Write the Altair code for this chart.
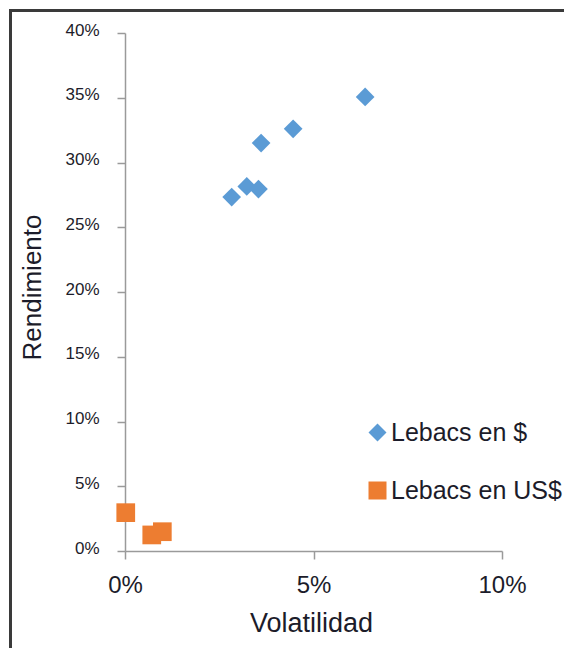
import altair as alt
import pandas as pd

# Volatility / return pairs for each Lebac group (fractions)
series_names = ["Lebacs en $", "Lebacs en US$"]
peso_vol = [0.0283, 0.0323, 0.0354, 0.0361, 0.0446, 0.0637]
peso_ret = [0.2733, 0.2815, 0.2795, 0.3150, 0.3260, 0.3506]
usd_vol = [0.0002, 0.0071, 0.0099]
usd_ret = [0.0296, 0.0124, 0.0149]

x_ticks = [0, 0.05, 0.10]
y_ticks = [0, 0.05, 0.10, 0.15, 0.20, 0.25, 0.30, 0.35, 0.40]

colors = ["#5B9BD5", "#ED7D31"]
shapes = ["diamond", "square"]

rows = (
    [{"Serie": series_names[0], "vol": v, "ret": r} for v, r in zip(peso_vol, peso_ret)]
    + [{"Serie": series_names[1], "vol": v, "ret": r} for v, r in zip(usd_vol, usd_ret)]
)
df = pd.DataFrame(rows)

W, H = 377, 518
LEFT, TOP = 125, 33
FONT = "Liberation Sans"
TEXT = "#1c1c2a"
AXIS = "#9a9a9a"

points = alt.Chart(df).mark_point(filled=True, opacity=1, size=350).encode(
    x=alt.X(
        "vol:Q",
        scale=alt.Scale(domain=[0, 0.10], nice=False, zero=False),
        axis=alt.Axis(
            title="Volatilidad",
            values=x_ticks,
            format=".0%",
            grid=False,
            domainColor=AXIS,
            domainWidth=1.5,
            tickColor=AXIS,
            tickWidth=1.5,
            tickSize=8,
            labelFont=FONT,
            labelFontSize=24,
            labelColor=TEXT,
            labelPadding=14,
            labelFlush=False,
            titleFont=FONT,
            titleFontSize=27,
            titleFontWeight="normal",
            titleColor=TEXT,
            titleX=186,
            titleY=72,
            titleBaseline="middle",
        ),
    ),
    y=alt.Y(
        "ret:Q",
        scale=alt.Scale(domain=[0, 0.40], nice=False),
        axis=alt.Axis(
            title="Rendimiento",
            values=y_ticks,
            format=".0%",
            grid=False,
            domainColor=AXIS,
            domainWidth=1.5,
            tickColor=AXIS,
            tickWidth=1.5,
            tickSize=8,
            labelFont=FONT,
            labelFontSize=17,
            labelColor=TEXT,
            labelPadding=18,
            labelOffset=-3,
            labelFlush=False,
            titleFont=FONT,
            titleFontSize=26,
            titleFontWeight="normal",
            titleColor=TEXT,
            titleX=-93,
            titleY=254,
            titleAngle=270,
            titleAlign="center",
            titleBaseline="middle",
        ),
    ),
    color=alt.Color(
        "Serie:N",
        scale=alt.Scale(domain=series_names, range=colors),
        legend=alt.Legend(
            title=None,
            orient="none",
            legendX=240,
            legendY=387,
            padding=0,
            symbolSize=324,
            symbolStrokeWidth=0,
            labelFont=FONT,
            labelFontSize=25,
            labelColor=TEXT,
            labelOffset=1,
            labelLimit=0,
            rowPadding=32,
        ),
    ),
    shape=alt.Shape(
        "Serie:N",
        scale=alt.Scale(domain=series_names, range=shapes),
        legend=None,
    ),
)

# Outer frame lines (top and left edges)
frame_src = pd.DataFrame({"k": [0]})
frame_top = alt.Chart(frame_src).mark_rule(color="#3a3a3a", strokeWidth=3).encode(
    x=alt.value(10.5 - LEFT), x2=alt.value(564 - LEFT + 5), y=alt.value(10.5 - TOP)
)
frame_left = alt.Chart(frame_src).mark_rule(color="#3a3a3a", strokeWidth=3).encode(
    x=alt.value(10.5 - LEFT), y=alt.value(9 - TOP), y2=alt.value(648 - TOP + 5)
)

chart = (
    alt.layer(frame_top, frame_left, points)
    .properties(
        width=W,
        height=H,
        autosize=alt.AutoSizeParams(type="none"),
        padding={"left": LEFT, "top": TOP, "right": 564 - LEFT - W, "bottom": 648 - TOP - H},
        background="white",
    )
    .configure_view(stroke=None)
)

chart.save("out.html", embed_options={"renderer": "svg", "actions": False})
